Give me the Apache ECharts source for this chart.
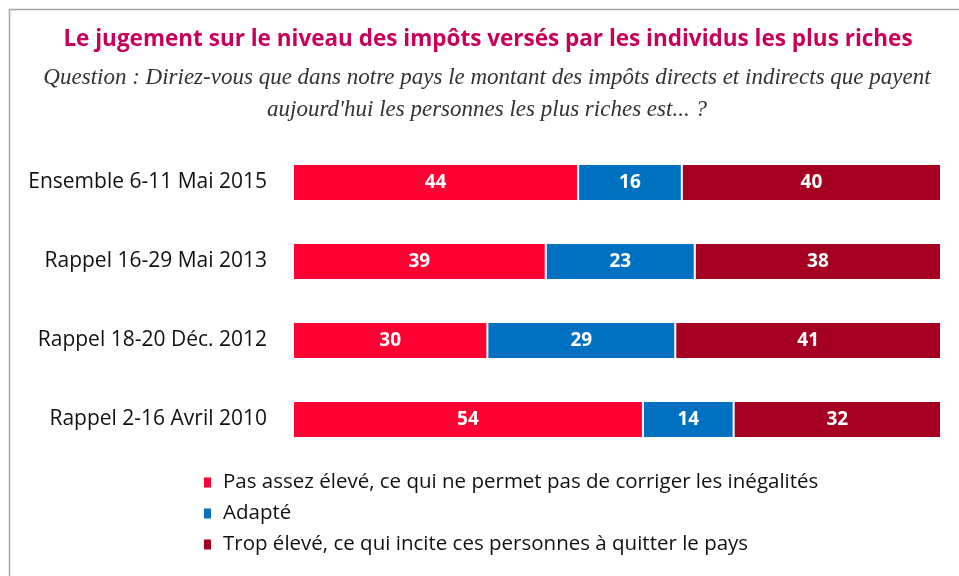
<!DOCTYPE html>
<html>
<head>
<meta charset="utf-8">
<script src="https://cdn.jsdelivr.net/npm/echarts@6/dist/echarts.min.js"></script>
<style>
  html, body { margin: 0; padding: 0; background: #fff; }
  #main { width: 959px; height: 576px; }
</style>
</head>
<body>
<div id="main"></div>
<script>
// catégories (haut -> bas)
var categories = ['Ensemble 6-11 Mai 2015', 'Rappel 16-29 Mai 2013', 'Rappel 18-20 Déc. 2012', 'Rappel 2-16 Avril 2010'];
var seriesNames = [
  'Pas assez élevé, ce qui ne permet pas de corriger les inégalités',
  'Adapté',
  'Trop élevé, ce qui incite ces personnes à quitter le pays'
];
var pasAssez = [44, 39, 30, 54];
var adapte = [16, 23, 29, 14];
var tropEleve = [40, 38, 41, 32];
var colors = ['#ff0033', '#0070c0', '#a50021'];

var myChart = echarts.init(document.getElementById('main'));

var makeSerie = function(name, data, color){
  return {
    name: name,
    type: 'bar',
    stack: 'total',
    barWidth: 37,
    data: data,
    itemStyle: {
      color: color,
      borderColor: '#fff',
      borderWidth: 1
    },
    label: {
      show: true,
      position: 'inside',
      color: '#fff',
      fontFamily: 'Open Sans',
      fontWeight: 'bold',
      fontSize: 19
    }
  };
};

var option = {
  animation: false,
  backgroundColor: '#fff',
  graphic: [
    {
      type: 'polyline',
      shape: { points: [[9.5, 576], [9.5, 9.5], [959, 9.5]] },
      style: { stroke: '#a6a6a6', lineWidth: 1.5, fill: null }
    },
    {
      type: 'text', x: 488, y: 28,
      style: {
        text: 'Le jugement sur le niveau des impôts versés par les individus les plus riches',
        fill: '#c8005a', font: 'bold 22.5px "Open Sans"', textAlign: 'center'
      }
    },
    {
      type: 'text', x: 487, y: 62,
      style: {
        text: 'Question : Diriez-vous que dans notre pays le montant des impôts directs et indirects que payent\naujourd\'hui les personnes les plus riches est... ?',
        fill: '#333', font: 'italic 23px "Liberation Serif"', textAlign: 'center', lineHeight: 32
      }
    }
  ],
  grid: {
    left: 293,
    right: 18,
    top: 143,
    height: 316
  },
  xAxis: {
    type: 'value',
    min: 0,
    max: 100,
    show: false
  },
  yAxis: {
    type: 'category',
    inverse: true,
    data: categories,
    axisLine: { show: false },
    axisTick: { show: false },
    axisLabel: {
      color: '#111',
      fontFamily: 'Open Sans',
      fontSize: 21,
      margin: 26
    }
  },
  legend: {
    orient: 'vertical',
    left: 197,
    top: 467,
    itemWidth: 9,
    itemHeight: 12,
    itemGap: 10,
    icon: 'rect',
    textStyle: {
      color: '#111',
      fontFamily: 'Open Sans',
      fontSize: 20.5,
      padding: [0, 0, 0, 6]
    },
    data: seriesNames
  },
  series: [
    makeSerie(seriesNames[0], pasAssez, colors[0]),
    makeSerie(seriesNames[1], adapte, colors[1]),
    makeSerie(seriesNames[2], tropEleve, colors[2])
  ]
};

myChart.setOption(option);
</script>
</body>
</html>
